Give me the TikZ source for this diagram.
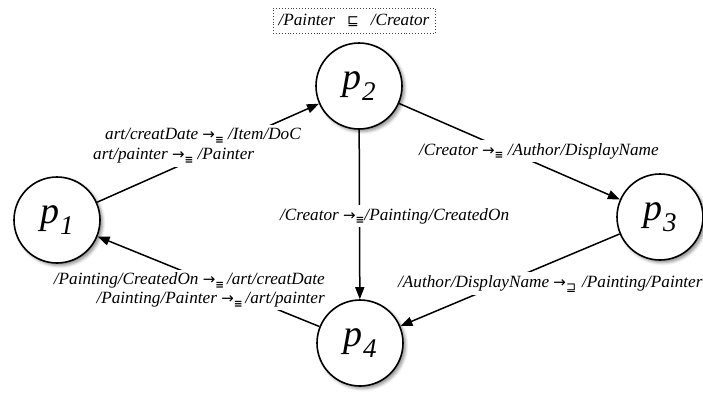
\documentclass[tikz,border=0pt]{standalone}
\usepackage{fontspec}
\setmainfont{Liberation Serif}
\newfontfamily\dvsans{DejaVu Sans}
\usetikzlibrary{arrows.meta,shadows.blur}

% mapping arrows with a small relation symbol below
\newcommand{\mapeq}{{\upshape\dvsans\fontsize{15}{15}\selectfont →}\raisebox{-3.5pt}{\upshape\dvsans\bfseries\fontsize{10.5}{10.5}\selectfont ≡}}
\newcommand{\mapsup}{{\upshape\dvsans\fontsize{15}{15}\selectfont →}\raisebox{-4pt}{\upshape\dvsans\fontsize{12}{12}\selectfont ⊒}}
% peer names
\newcommand{\peer}[1]{{\fontsize{38}{38}\selectfont\itshape p\kern0.5pt\raisebox{-11pt}{\fontsize{27}{27}\selectfont #1}}}

\tikzset{
  peernode/.style={circle, draw, line width=1.6pt, minimum size=86pt, inner sep=0pt,
    fill=white, blur shadow={shadow xshift=2.5pt, shadow yshift=-2.5pt,
    shadow blur radius=3pt, shadow opacity=45}},
  link/.style={line width=1.5pt, -{Triangle[length=12pt,width=9pt]}},
  maplabel/.style={fill=white, inner xsep=3pt, inner ysep=3pt,
    font=\fontsize{17.2}{18}\selectfont\itshape},
  constraint/.style={draw=black!75, dotted, line width=0.9pt, minimum width=162pt,
    minimum height=25pt, inner sep=0pt, font=\fontsize{17.2}{18}\selectfont\itshape}
}

\begin{document}
\begin{tikzpicture}[x=1pt,y=-1pt]
  \useasboundingbox (0,0) rectangle (703,392);

  % peers
  \node[peernode] (p1) at (57,220) {\peer{1}};
  \node[peernode] (p2) at (359,86) {\peer{2}};
  \node[peernode] (p3) at (660,217) {\peer{3}};
  \node[peernode] (p4) at (360,343) {\peer{4}};

  % constraint above p2
  \node[constraint] (c2) at (354,20.5) {/Painter\hspace{0.7em}{\upshape\dvsans\fontsize{14}{14}\selectfont ⊑}\hspace{0.7em}/Creator};

  % mappings between peers
  \draw[link] (p1) -- (p2);
  \draw[link] (p2) -- (p3);
  \draw[link] (p2) -- (p4);
  \draw[link] (p3) -- (p4);
  \draw[link] (p4) -- (p1);

  % mapping labels
  \node[maplabel, align=left, anchor=west] (m12) at (90,146)
    {\hspace*{12pt}art/creatDate \mapeq\ /Item/DoC\\[2pt]art/painter \mapeq\ /Painter};
  \node[maplabel, anchor=base west] (m23) at (416,155) {/Creator \mapeq\ /Author/DisplayName};
  \node[maplabel, anchor=base west] (m24) at (277,220) {/Creator \mapeq/Painting/CreatedOn};
  \node[maplabel, align=right, anchor=east] (m41) at (328,290)
    {/Painting/CreatedOn \mapeq\,/art/creatDate\\[1pt]/Painting/Painter \mapeq\,/art/painter};
  \node[maplabel, anchor=base west] (m34) at (395,287) {/Author/DisplayName \mapsup\hspace{0.35em}/Painting/Painter};
\end{tikzpicture}
\end{document}
